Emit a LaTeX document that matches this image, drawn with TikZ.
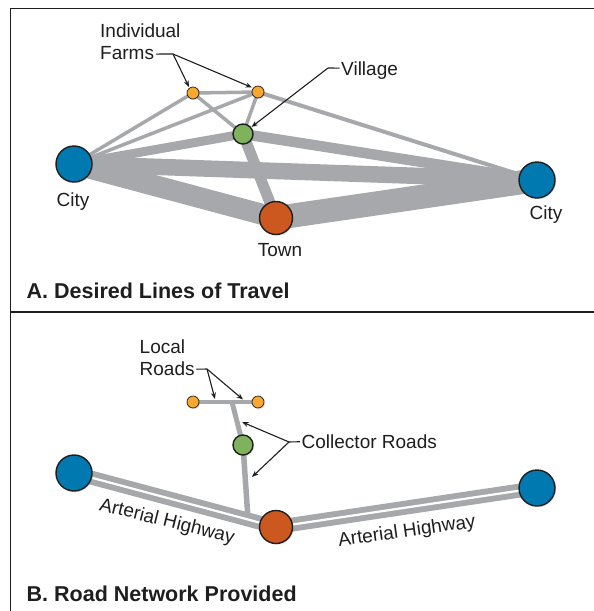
\documentclass[tikz,border=0pt]{standalone}
\usepackage{fontspec}
\setmainfont{Liberation Sans}
\usetikzlibrary{arrows.meta,shadows}
\definecolor{roadgray}{RGB}{166,168,171}
\definecolor{cityblue}{RGB}{0,121,176}
\definecolor{townorange}{RGB}{204,88,32}
\definecolor{villgreen}{RGB}{127,178,92}
\definecolor{farmorange}{RGB}{247,168,45}
\definecolor{inkdark}{RGB}{30,30,30}
\pgfdeclarelayer{bg}
\pgfsetlayers{bg,main}
\tikzset{
 place/.style={circle, draw=inkdark, line width=1.4pt, inner sep=0pt,
   drop shadow={opacity=0.22,shadow xshift=1.2pt,shadow yshift=-1.2pt}},
 city/.style={place, fill=cityblue, minimum size=36pt},
 town/.style={place, fill=townorange, minimum size=33pt},
 village/.style={place, fill=villgreen, minimum size=20pt},
 farm/.style={place, fill=farmorange, minimum size=12pt, line width=0.7pt},
 lbl/.style={inner sep=0pt, font=\fontsize{19}{22.5}\selectfont, text=inkdark},
 ttl/.style={inner sep=0pt, font=\fontsize{21.5}{24}\selectfont\bfseries, text=inkdark},
 road/.style={draw=roadgray, line cap=butt},
 leader/.style={draw=inkdark, line width=1.1pt},
 ptr/.style={leader, -{Stealth[length=6.5pt,width=5pt]}},
 frameline/.style={draw=inkdark, line width=1.8pt},
}
\begin{document}
\begin{tikzpicture}[x=1pt,y=-1pt]
\useasboundingbox (0,0) rectangle (594,611);
% frame
\draw[frameline] (10,8.5) -- (594,8.5);
\draw[frameline] (10,312) -- (594,312);
\draw[frameline, line width=1.3pt] (10.5,7.6) -- (10.5,611);

% ---------- Panel A ----------
\node[city] (cAL) at (74,164) {};
\node[city] (cAR) at (537,180) {};
\node[town] (tA) at (276,218) {};
\node[village] (vA) at (243,134) {};
\node[farm] (fA1) at (193,93) {};
\node[farm] (fA2) at (258,92) {};
\begin{pgfonlayer}{bg}
\draw[road, line width=24pt] (tA.center) -- (cAR.center);
\draw[road, line width=21pt] (cAL.center) -- (tA.center);
\draw[road, line width=16.5pt] (cAL.center) -- (cAR.center);
\draw[road, line width=10.5pt] (vA.center) -- (cAR.center);
\draw[road, line width=9pt] (cAL.center) -- (vA.center);
\draw[road, line width=11pt] (vA.center) -- (tA.center);
\draw[road, line width=4pt] (fA2.center) -- (cAR.center);
\draw[road, line width=3.5pt] (cAL.center) -- (fA1.center);
\draw[road, line width=3.5pt] (cAL.center) -- (fA2.center);
\draw[road, line width=3.5pt] (fA1.center) -- (fA2.center);
\draw[road, line width=3.5pt] (fA1.center) -- (vA.center);
\draw[road, line width=3.5pt] (fA2.center) -- (vA.center);
\end{pgfonlayer}
\node[lbl, anchor=base] (cALlab) at (73,206) {City};
\node[lbl, anchor=base] (cARlab) at (546,219.5) {City};
\node[lbl, anchor=base] (tAlab) at (280,256.5) {Town};
\node[lbl, anchor=base west] (indivlab) at (100,37) {Individual};
\node[lbl, anchor=base west] (farmslab) at (100,59.5) {Farms};
\coordinate (fj) at (173,54);
\coordinate (ft1) at (189,87);
\coordinate (ft2) at (252,87.5);
\draw[leader] ([xshift=2pt,yshift=-1pt]farmslab.east) -- (fj);
\draw[ptr] (fj) -- (ft1);
\draw[ptr] (fj) -- (ft2);
\node[lbl, anchor=base west] (villlab) at (341,75) {Village};
\coordinate (vj) at (328,68);
\coordinate (vt) at (251.5,127);
\draw[leader] ([xshift=-1.5pt,yshift=2pt]villlab.west) -- (vj);
\draw[ptr] (vj) -- (vt);
\node[ttl, anchor=base west] (ttlA) at (26.5,298) {A. Desired Lines of Travel};

% ---------- Panel B ----------
\node[city] (cBL) at (74,473) {};
\node[city] (cBR) at (537,488) {};
\node[town] (tB) at (276,527) {};
\node[village] (vB) at (243,445) {};
\node[farm] (fB1) at (193,402) {};
\node[farm] (fB2) at (258,402) {};
\coordinate (tj) at (232,402);
\coordinate (hj) at (248,519);
\begin{pgfonlayer}{bg}
\draw[road, line width=3.5pt] (fB1.center) -- (fB2.center);
\draw[road, line width=5pt] (tj) -- (vB.center);
\draw[road, line width=5.5pt] (vB.center) -- (hj);
\draw[road, line width=14pt] (cBL.center) -- (tB.center);
\draw[road, line width=14pt] (tB.center) -- (cBR.center);
\draw[white, line width=2.2pt] (cBL.center) -- (tB.center);
\draw[white, line width=2.2pt] (tB.center) -- (cBR.center);
\end{pgfonlayer}
\node[lbl, anchor=base west] (loclab) at (139.5,353) {Local};
\node[lbl, anchor=base west] (roadslab) at (139.5,375) {Roads};
\coordinate (lj) at (207,369);
\coordinate (lt1) at (215,399);
\coordinate (lt2) at (243,399.5);
\draw[leader] ([xshift=1.5pt,yshift=-1pt]roadslab.east) -- (lj);
\draw[ptr] (lj) -- (lt1);
\draw[ptr] (lj) -- (lt2);
\node[lbl, anchor=base west] (collab) at (301.5,448.5) {Collector Roads};
\coordinate (cj) at (289,442);
\coordinate (ct1) at (242,422);
\coordinate (ct2) at (252,477);
\draw[leader] ([xshift=-1.5pt]collab.west) -- (cj);
\draw[ptr] (cj) -- (ct1);
\draw[ptr] (cj) -- (ct2);
\node[lbl, rotate=-14] (art1) at (167,522) {Arterial Highway};
\node[lbl, rotate=8] (art2) at (407,532) {Arterial Highway};
\node[ttl, anchor=base west] (ttlB) at (26.5,601) {B. Road Network Provided};
\end{tikzpicture}
\end{document}
